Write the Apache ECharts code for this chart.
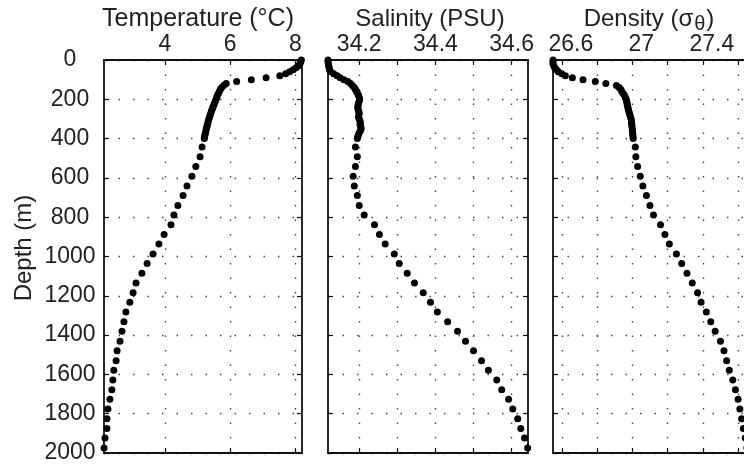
<!DOCTYPE html>
<html><head><meta charset="utf-8">
<script src="https://cdn.jsdelivr.net/npm/echarts@6/dist/echarts.min.js"></script>
<style>html,body{margin:0;padding:0;background:#fff}#c{width:744px;height:466px}</style>
</head><body><div id="c"></div>
<script>
// Depth (m) of each sample
const depth = [0,10,20,30,40,50,60,70,80,90,100,110,120,130,140,150,160,170,180,190,200,210,220,230,240,250,260,270,280,290,300,310,320,330,340,350,360,370,380,390,400,
  443,493,542,592,641,690,740,789,839,888,937,987,1036,1085,1135,1184,1233,1283,1332,1381,1431,1480,1530,1579,1628,1678,1727,1776,1826,1875,1924,1974];
// Temperature (°C)
const temperature = [8.18,8.16,8.13,8.08,8.02,7.93,7.82,7.70,7.52,7.10,6.65,6.20,5.88,5.80,5.74,5.70,5.67,5.64,5.61,5.59,5.57,5.55,5.52,5.50,5.47,5.45,5.43,5.41,5.39,5.37,5.35,5.33,5.32,5.30,5.29,5.27,5.26,5.25,5.23,5.22,5.21,
  5.14,5.08,4.95,4.83,4.68,4.56,4.40,4.28,4.19,3.98,3.82,3.64,3.46,3.30,3.12,3.03,2.93,2.81,2.75,2.69,2.63,2.54,2.51,2.44,2.41,2.38,2.32,2.26,2.23,2.23,2.17,2.14];
// Salinity (PSU)
const salinity = [34.118,34.118,34.119,34.120,34.121,34.122,34.125,34.133,34.142,34.150,34.160,34.170,34.177,34.182,34.187,34.190,34.193,34.196,34.198,34.200,34.201,34.200,34.198,34.197,34.196,34.197,34.198,34.200,34.199,34.198,34.200,34.202,34.203,34.202,34.204,34.205,34.203,34.200,34.198,34.196,34.195,
  34.190,34.195,34.190,34.184,34.187,34.195,34.200,34.213,34.240,34.253,34.268,34.292,34.305,34.326,34.345,34.368,34.387,34.405,34.432,34.458,34.479,34.500,34.521,34.539,34.561,34.574,34.592,34.603,34.616,34.624,34.634,34.642];
// Density (sigma-theta)
const density = [26.55,26.55,26.55,26.555,26.56,26.57,26.58,26.60,26.62,26.66,26.72,26.79,26.85,26.91,26.925,26.935,26.94,26.948,26.955,26.96,26.965,26.968,26.97,26.972,26.975,26.977,26.98,26.983,26.986,26.99,26.993,26.995,26.996,26.997,26.998,27.0,27.0,27.002,27.003,27.004,27.005,
  27.017,27.020,27.030,27.045,27.060,27.080,27.100,27.120,27.160,27.185,27.210,27.250,27.280,27.310,27.340,27.370,27.390,27.420,27.445,27.470,27.500,27.520,27.535,27.550,27.570,27.585,27.600,27.610,27.620,27.630,27.640,27.650];

const tempTicks = [4,6,8];
const tempLabels = [4,6,8];
const salTicks = [34.2,34.3,34.4,34.5,34.6];
const salLabels = [34.2,34.4,34.6];
const denTicks = [26.6,26.8,27.0,27.2,27.4,27.6];
const denLabels = [26.6,27.0,27.4];
const titles = ['Temperature (°C)','Salinity (PSU)'];
const yTitle = 'Depth (m)';

const FONT = 'Liberation Sans';
const ink = '#000';
const panels = [
  {grid:{left:104,top:60,width:198,height:393}, min:2.14, max:8.2, ticks:tempTicks, labels:tempLabels, values:temperature, pad:[0,0,0,0]},
  {grid:{left:328,top:60,width:200,height:393}, min:34.118, max:34.643, ticks:salTicks, labels:salLabels, values:salinity, pad:[0,0,0,0]},
  {grid:{left:553,top:60,width:211,height:393}, min:26.55, max:27.747, ticks:denTicks, labels:denLabels, values:density, pad:[0,0,0,18]}
];
const axisLine = {show:true, onZero:false, lineStyle:{color:'#111', width:1.8}};
const dotted = {show:true, lineStyle:{color:'#444', width:1.4, type:[1.5,13]}};
const grid=[], xAxis=[], yAxis=[], series=[];
panels.forEach((p,i)=>{
  grid.push(Object.assign({outerBoundsMode:'none', containLabel:false}, p.grid));
  xAxis.push({type:'value', gridIndex:i, position:'top', min:p.min, max:p.max,
    axisLine, axisTick:{show:true, inside:true, length:5, customValues:p.ticks, lineStyle:{color:'#111',width:1.2}},
    axisLabel:{show:true, customValues:p.labels, margin:4, padding:p.pad, fontFamily:FONT, fontSize:23, color:'#222', formatter:v=>String(v)},
    splitLine:dotted});
  xAxis.push({type:'value', gridIndex:i, position:'bottom', min:p.min, max:p.max,
    axisLine, axisTick:{show:true, inside:true, length:5, customValues:p.ticks, lineStyle:{color:'#111',width:1.2}},
    axisLabel:{show:false}, splitLine:{show:false}});
  yAxis.push({type:'value', gridIndex:i, position:'left', inverse:true, min:0, max:2000, interval:200,
    axisLine, axisTick:{show:true, inside:true, length:5, lineStyle:{color:'#111',width:1.2}},
    axisLabel:{show:i===0, margin:34, align:'center', fontFamily:FONT, fontSize:23, color:'#222', formatter:v=>String(v)},
    splitLine:dotted});
  yAxis.push({type:'value', gridIndex:i, position:'right', inverse:true, min:0, max:2000, interval:200,
    axisLine, axisTick:{show:true, inside:true, length:5, lineStyle:{color:'#111',width:1.2}},
    axisLabel:{show:false}, splitLine:{show:false}});
  series.push({type:'scatter', xAxisIndex:2*i, yAxisIndex:2*i, symbol:'circle', symbolSize:7, clip:false,
    itemStyle:{color:ink, opacity:1}, data:p.values.map((v,k)=>[v, depth[k]])});
});
const graphic = [
  {type:'text', x:198, y:19, style:{text:titles[0], fontFamily:FONT, fontSize:25, fill:'#222', align:'center', verticalAlign:'middle'}},
  {type:'text', x:430, y:19, style:{text:titles[1], fontFamily:FONT, fontSize:24, fill:'#222', align:'center', verticalAlign:'middle'}},
  {type:'text', x:649, y:19, style:{text:'{a|Density (σ}{b|θ}{a|)}', align:'center', verticalAlign:'middle',
     rich:{a:{fontFamily:FONT, fontSize:24, fill:'#222', color:'#222', lineHeight:30, verticalAlign:'middle'},
           b:{fontFamily:FONT, fontSize:20, fill:'#222', color:'#222', lineHeight:20, verticalAlign:'bottom', padding:[0,1,0,1]}}}},
  {type:'text', x:24, y:248, rotation:Math.PI/2, style:{text:yTitle, fontFamily:FONT, fontSize:24, fill:'#222', align:'center', verticalAlign:'middle'}}
];
const chart = echarts.init(document.getElementById('c'), null, {renderer:'canvas'});
chart.setOption({animation:false, backgroundColor:'#fff', grid, xAxis, yAxis, series, graphic});
</script></body></html>
